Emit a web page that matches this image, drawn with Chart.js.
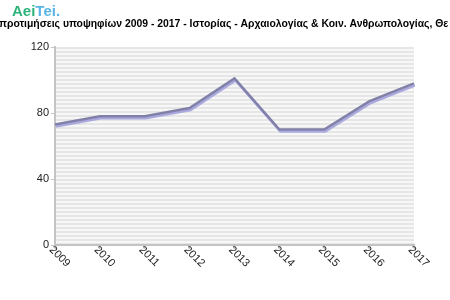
<!DOCTYPE html>
<html><head><meta charset="utf-8">
<script src="https://cdn.jsdelivr.net/npm/chart.js@4/dist/chart.umd.min.js"></script>
<style>html,body{margin:0;padding:0;background:#fff}#w{width:450px;height:300px;position:relative}</style>
</head><body><div id="w"><canvas id="c"></canvas></div>
<script>
const years = ['2009','2010','2011','2012','2013','2014','2015','2016','2017'];
const preferences = [73, 78, 78, 83, 101, 70, 70, 87, 98];
const yTicks = [0, 40, 80, 120];
const titleText = 'προτιμήσεις υποψηφίων 2009 - 2017 - Ιστορίας - Αρχαιολογίας & Κοιν. Ανθρωπολογίας, Θε';

const deco = {
  id: 'deco',
  beforeDraw(chart) {
    const ctx = chart.ctx, a = chart.chartArea;
    ctx.save();
    ctx.fillStyle = '#f7f7f7';
    ctx.fillRect(a.left, a.top, a.right - a.left, a.bottom - a.top);
    ctx.fillStyle = '#e6e6e6';
    for (let y = a.top; y < a.bottom; y += 4) ctx.fillRect(a.left, y, a.right - a.left, 2);
    ctx.restore();
  },
  beforeDatasetDraw(chart) {
    const ctx = chart.ctx;
    ctx.save();
    ctx.shadowColor = '#aaaae0';
    ctx.shadowOffsetX = 1;
    ctx.shadowOffsetY = 2;
    ctx.shadowBlur = 0;
  },
  afterDatasetDraw(chart) { chart.ctx.restore(); },
  afterDraw(chart) {
    const ctx = chart.ctx, xs = chart.scales.x;
    ctx.save();
    // logo
    ctx.font = 'bold 15px "Liberation Sans", Arial, sans-serif';
    ctx.textBaseline = 'alphabetic';
    ctx.textAlign = 'left';
    ctx.fillStyle = '#2db37a';
    ctx.fillText('Aei', 12, 16);
    const w = ctx.measureText('Aei').width;
    ctx.fillStyle = '#5ab4e6';
    ctx.fillText('Tei.', 12 + w, 16);
    // title
    ctx.font = 'bold 10.4px "Liberation Sans", Arial, sans-serif';
    ctx.fillStyle = '#000';
    ctx.fillText(titleText, -1, 27);
    // x labels rotated clockwise
    ctx.font = '11px "Liberation Sans", Arial, sans-serif';
    ctx.fillStyle = '#222';
    years.forEach((lab, i) => {
      const x = xs.getPixelForTick(i);
      ctx.save();
      ctx.translate(x - 4, chart.chartArea.bottom + 3);
      ctx.rotate(Math.PI / 4);
      ctx.textAlign = 'left';
      ctx.textBaseline = 'middle';
      ctx.fillText(lab, 0, 0);
      ctx.restore();
    });
    ctx.restore();
  }
};

new Chart(document.getElementById('c'), {
  type: 'line',
  data: {
    labels: years,
    datasets: [{
      data: preferences,
      borderColor: '#8080a8',
      borderWidth: 2.5,
      pointRadius: 0,
      tension: 0,
      fill: false
    }]
  },
  options: {
    responsive: true,
    maintainAspectRatio: false,
    animation: false,
    layout: { padding: { top: 47, right: 36, left: 0, bottom: 0 } },
    plugins: { legend: { display: false }, title: { display: false }, tooltip: { enabled: false } },
    scales: {
      x: {
        offset: false,
        afterFit(s) { s.height = 55; },
        grid: { drawOnChartArea: false, color: '#c4c4c4', tickLength: 4, tickWidth: 2 },
        border: { color: '#c4c4c4', width: 2 },
        ticks: { display: false }
      },
      y: {
        min: 0, max: 120,
        afterFit(s) { s.width = 55; },
        afterBuildTicks(s) { s.ticks = yTicks.map(v => ({ value: v })); },
        grid: { drawOnChartArea: false, color: '#c4c4c4', tickLength: 4, tickWidth: 1 },
        border: { color: '#c4c4c4', width: 2 },
        ticks: { color: '#222', padding: 2, font: { family: '"Liberation Sans", Arial, sans-serif', size: 11 } }
      }
    }
  },
  plugins: [deco]
});
</script></body></html>
